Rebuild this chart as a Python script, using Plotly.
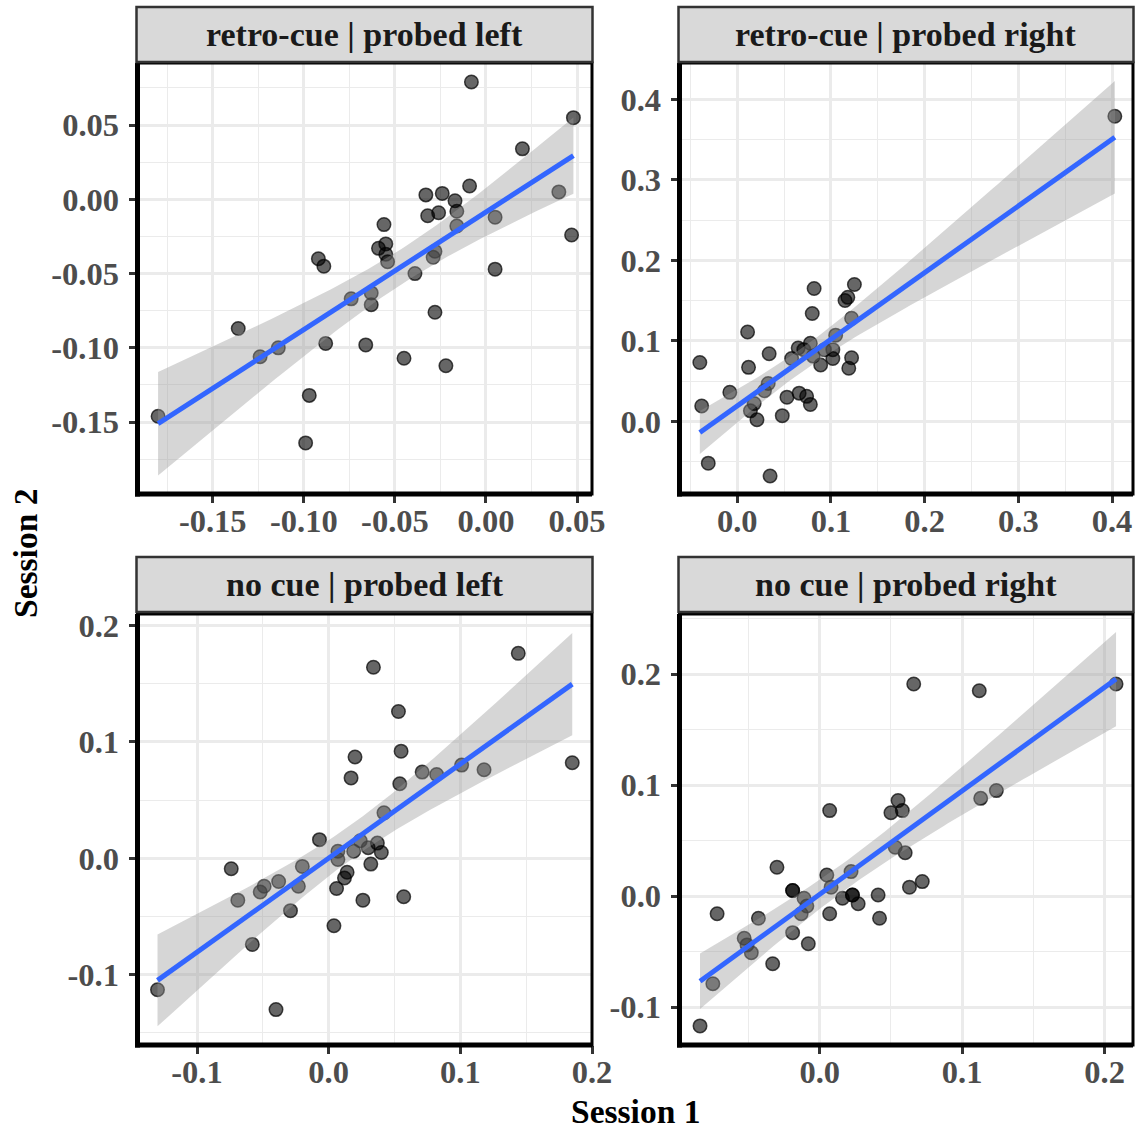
import numpy as np
import plotly.graph_objects as go

W, H = 1141, 1129

# ---- per-participant estimates: session 1 (x) vs session 2 (y) ----
retro_left_s1 = [-0.008, 0.048, 0.020, -0.009, -0.033, -0.024, -0.017, -0.016, -0.032, -0.026,
                 0.040, 0.005, -0.016, 0.047, -0.056, -0.059, -0.055, -0.055, -0.054, -0.092,
                 -0.089, -0.028, -0.029, 0.005, -0.039, -0.063, -0.074, -0.063, -0.028, -0.136,
                 -0.124, -0.114, -0.088, -0.066, -0.045, -0.022, -0.097, -0.099, -0.180]
retro_left_s2 = [0.079, 0.055, 0.034, 0.009, 0.003, 0.004, -0.001, -0.008, -0.011, -0.009,
                 0.005, -0.012, -0.018, -0.024, -0.017, -0.033, -0.030, -0.037, -0.042, -0.040,
                 -0.045, -0.035, -0.039, -0.047, -0.050, -0.063, -0.067, -0.071, -0.076, -0.087,
                 -0.106, -0.100, -0.097, -0.098, -0.107, -0.112, -0.132, -0.164, -0.146]

retro_right_s1 = [0.403, 0.125, 0.082, 0.118, 0.115, 0.080, 0.122, 0.011, 0.105, 0.078,
                  0.102, 0.065, 0.071, 0.058, 0.034, 0.081, 0.093, 0.102, 0.122, 0.089,
                  0.119, 0.012, -0.040, 0.033, 0.029, -0.008, 0.053, 0.066, 0.074, 0.078,
                  0.018, 0.014, -0.038, 0.021, 0.048, -0.031, 0.035]
retro_right_s2 = [0.379, 0.170, 0.165, 0.154, 0.150, 0.134, 0.128, 0.111, 0.107, 0.097,
                  0.089, 0.091, 0.089, 0.078, 0.084, 0.081, 0.089, 0.078, 0.079, 0.070,
                  0.066, 0.067, 0.073, 0.047, 0.038, 0.036, 0.030, 0.035, 0.031, 0.021,
                  0.022, 0.013, 0.019, 0.002, 0.007, -0.052, -0.068]

nocue_left_s1 = [0.034, 0.144, 0.053, 0.020, 0.055, 0.017, 0.054, 0.071, 0.082, 0.101,
                 0.118, 0.185, 0.042, -0.007, 0.007, 0.007, 0.019, 0.024, 0.030, 0.037,
                 0.040, 0.032, -0.020, 0.014, 0.012, 0.006, 0.026, 0.057, -0.074, -0.069,
                 -0.049, -0.052, -0.038, -0.023, -0.029, 0.004, -0.058, -0.130, -0.040]
nocue_left_s2 = [0.164, 0.176, 0.126, 0.087, 0.092, 0.069, 0.064, 0.074, 0.072, 0.080,
                 0.076, 0.082, 0.039, 0.016, 0.006, -0.001, 0.006, 0.015, 0.009, 0.013,
                 0.005, -0.005, -0.007, -0.012, -0.017, -0.026, -0.036, -0.033, -0.009, -0.036,
                 -0.024, -0.029, -0.020, -0.024, -0.045, -0.058, -0.074, -0.113, -0.130]

nocue_right_s1 = [0.066, 0.112, 0.208, 0.113, 0.124, 0.007, 0.055, 0.050, 0.058, 0.053,
                  0.060, -0.030, 0.005, 0.022, 0.008, -0.019, -0.019, -0.011, -0.009, -0.013,
                  0.023, 0.023, 0.016, 0.027, 0.041, 0.072, 0.063, 0.007, 0.042, -0.072,
                  -0.043, -0.053, -0.048, -0.051, -0.019, -0.008, -0.033, -0.075, -0.084]
nocue_right_s2 = [0.191, 0.185, 0.191, 0.088, 0.095, 0.077, 0.086, 0.075, 0.077, 0.044,
                  0.039, 0.026, 0.019, 0.022, 0.008, 0.005, 0.005, -0.002, -0.009, -0.016,
                  0.001, 0.001, -0.002, -0.007, 0.001, 0.013, 0.008, -0.016, -0.020, -0.016,
                  -0.020, -0.038, -0.051, -0.044, -0.033, -0.043, -0.061, -0.079, -0.117]

# ---- facet titles and axis breaks ----
facet_titles = ["retro-cue | probed left", "retro-cue | probed right",
                "no cue | probed left", "no cue | probed right"]

retro_left_xbreaks = [-0.15, -0.10, -0.05, 0.00, 0.05]
retro_left_xlabels = ["-0.15", "-0.10", "-0.05", "0.00", "0.05"]
retro_left_ybreaks = [-0.15, -0.10, -0.05, 0.00, 0.05]
retro_left_ylabels = ["-0.15", "-0.10", "-0.05", "0.00", "0.05"]

retro_right_xbreaks = [0.0, 0.1, 0.2, 0.3, 0.4]
retro_right_xlabels = ["0.0", "0.1", "0.2", "0.3", "0.4"]
retro_right_ybreaks = [0.0, 0.1, 0.2, 0.3, 0.4]
retro_right_ylabels = ["0.0", "0.1", "0.2", "0.3", "0.4"]

nocue_left_xbreaks = [-0.1, 0.0, 0.1, 0.2]
nocue_left_xlabels = ["-0.1", "0.0", "0.1", "0.2"]
nocue_left_ybreaks = [-0.1, 0.0, 0.1, 0.2]
nocue_left_ylabels = ["-0.1", "0.0", "0.1", "0.2"]

nocue_right_xbreaks = [0.0, 0.1, 0.2]
nocue_right_xlabels = ["0.0", "0.1", "0.2"]
nocue_right_ybreaks = [-0.1, 0.0, 0.1, 0.2]
nocue_right_ylabels = ["-0.1", "0.0", "0.1", "0.2"]

# ---- layout (pixels) ----
COLS = [(137.5, 592.0), (679.5, 1133.0)]
ROWS = [(63.0, 494.0), (614.0, 1045.0)]
STRIPS = [(7.0, 62.0), (557.0, 612.0)]

panels = [
    dict(x=retro_left_s1, y=retro_left_s2, xb=retro_left_xbreaks, xl=retro_left_xlabels,
         yb=retro_left_ybreaks, yl=retro_left_ylabels,
         xr=[-0.1913, 0.0582], yr=[-0.1984, 0.0918], r=0, c=0),
    dict(x=retro_right_s1, y=retro_right_s2, xb=retro_right_xbreaks, xl=retro_right_xlabels,
         yb=retro_right_ybreaks, yl=retro_right_ylabels,
         xr=[-0.0617, 0.4224], yr=[-0.0903, 0.4451], r=0, c=1),
    dict(x=nocue_left_s1, y=nocue_left_s2, xb=nocue_left_xbreaks, xl=nocue_left_xlabels,
         yb=nocue_left_ybreaks, yl=nocue_left_ylabels,
         xr=[-0.1452, 0.2000], yr=[-0.1604, 0.2098], r=1, c=0),
    dict(x=nocue_right_s1, y=nocue_right_s2, xb=nocue_right_xbreaks, xl=nocue_right_xlabels,
         yb=nocue_right_ybreaks, yl=nocue_right_ylabels,
         xr=[-0.0984, 0.2199], yr=[-0.1342, 0.2541], r=1, c=1),
]


def t975(df):
    # Cornish-Fisher expansion of the Student-t 97.5% quantile
    z = 1.959964
    return (z + (z ** 3 + z) / (4 * df)
            + (5 * z ** 5 + 16 * z ** 3 + 3 * z) / (96 * df ** 2)
            + (3 * z ** 7 + 19 * z ** 5 + 17 * z ** 3 - 15 * z) / (384 * df ** 3))


def lm_band(x, y, n=100):
    x = np.asarray(x, float)
    y = np.asarray(y, float)
    m = len(x)
    xm, ym = x.mean(), y.mean()
    sxx = ((x - xm) ** 2).sum()
    b = ((x - xm) * (y - ym)).sum() / sxx
    a = ym - b * xm
    s = np.sqrt(((y - (a + b * x)) ** 2).sum() / (m - 2))
    xg = np.linspace(x.min(), x.max(), n)
    yg = a + b * xg
    se = s * np.sqrt(1.0 / m + (xg - xm) ** 2 / sxx)
    t = t975(m - 2)
    return xg, yg, yg - t * se, yg + t * se


def minor_breaks(breaks, rng):
    step = breaks[1] - breaks[0]
    out = []
    v = breaks[0] - step / 2
    while v > rng[0]:
        out.append(v)
        v -= step
    v = breaks[0] + step / 2
    while v < rng[1]:
        out.append(v)
        v += step
    return out


def fx(px):
    return px / W


def fy(py):
    return 1 - py / H


FONT = "Liberation Serif"
GRID = "#EBEBEB"
fig = go.Figure()
shapes = []
annotations = []
layout_axes = {}

for i, p in enumerate(panels):
    k = i + 1
    xa = "x" if k == 1 else f"x{k}"
    ya = "y" if k == 1 else f"y{k}"

    # points
    fig.add_trace(go.Scatter(
        x=p["x"], y=p["y"], mode="markers", xaxis=xa, yaxis=ya,
        marker=dict(size=13.5, color="rgba(0,0,0,0.6)",
                    line=dict(color="rgba(0,0,0,0.7)", width=1.5)),
        showlegend=False, hoverinfo="skip"))

    # linear fit with 95% confidence ribbon
    xg, yg, lo, hi = lm_band(p["x"], p["y"])
    fig.add_trace(go.Scatter(x=xg, y=hi, mode="lines", line=dict(width=0),
                             xaxis=xa, yaxis=ya, showlegend=False, hoverinfo="skip"))
    fig.add_trace(go.Scatter(x=xg, y=lo, mode="lines", line=dict(width=0),
                             fill="tonexty", fillcolor="rgba(153,153,153,0.4)",
                             xaxis=xa, yaxis=ya, showlegend=False, hoverinfo="skip"))
    fig.add_trace(go.Scatter(x=xg, y=yg, mode="lines", line=dict(color="#3366FF", width=5),
                             xaxis=xa, yaxis=ya, showlegend=False, hoverinfo="skip"))

    x0, x1 = COLS[p["c"]]
    y0, y1 = ROWS[p["r"]]
    s0, s1 = STRIPS[p["r"]]

    common = dict(
        ticks="outside", ticklen=8, tickwidth=2.5, tickcolor="#333333",
        showgrid=True, gridcolor=GRID, gridwidth=2.8,
        zeroline=False, showline=False, automargin=False,
        tickfont=dict(family=FONT, size=32.5, color="#4D4D4D", weight="bold"),
    )
    layout_axes["xaxis" if k == 1 else f"xaxis{k}"] = dict(
        domain=[fx(x0), fx(x1)], range=p["xr"], anchor=ya,
        tickmode="array", tickvals=p["xb"], ticktext=p["xl"],
        minor=dict(tickmode="array", tickvals=minor_breaks(p["xb"], p["xr"]),
                   showgrid=True, gridcolor=GRID, gridwidth=1.4, ticks=""),
        ticklabelstandoff=-10,
        **common)
    layout_axes["yaxis" if k == 1 else f"yaxis{k}"] = dict(
        domain=[fy(y1), fy(y0)], range=p["yr"], anchor=xa,
        tickmode="array", tickvals=p["yb"], ticktext=p["yl"],
        minor=dict(tickmode="array", tickvals=minor_breaks(p["yb"], p["yr"]),
                   showgrid=True, gridcolor=GRID, gridwidth=1.4, ticks=""),
        ticklabelstandoff=3,
        **common)

    # panel border, with heavier left and bottom axis lines
    shapes.append(dict(type="rect", xref="paper", yref="paper",
                       x0=fx(x0), x1=fx(x1), y0=fy(y1), y1=fy(y0),
                       line=dict(color="black", width=3), layer="above"))
    shapes.append(dict(type="line", xref="paper", yref="paper",
                       x0=fx(x0), x1=fx(x0), y0=fy(y1 + 2.5), y1=fy(y0),
                       line=dict(color="black", width=5), layer="above"))
    shapes.append(dict(type="line", xref="paper", yref="paper",
                       x0=fx(x0 - 2.5), x1=fx(x1), y0=fy(y1), y1=fy(y1),
                       line=dict(color="black", width=5), layer="above"))

    # facet strip
    shapes.append(dict(type="rect", xref="paper", yref="paper",
                       x0=fx(x0 - 1), x1=fx(x1 + 0.5), y0=fy(s1), y1=fy(s0),
                       fillcolor="#D9D9D9", line=dict(color="#333333", width=2.5),
                       layer="above"))
    annotations.append(dict(x=fx((x0 + x1) / 2), y=fy((s0 + s1) / 2), xref="paper",
                            yref="paper", text=f"<b>{facet_titles[i]}</b>", showarrow=False,
                            xanchor="center", yanchor="middle",
                            font=dict(family=FONT, size=34, color="#1A1A1A")))

# shared axis titles
annotations.append(dict(x=fx((COLS[0][0] + COLS[1][1]) / 2), y=fy(1111), xref="paper",
                        yref="paper", text="<b>Session 1</b>", showarrow=False,
                        xanchor="center", yanchor="middle",
                        font=dict(family=FONT, size=33.5, color="black")))
annotations.append(dict(x=fx(25), y=fy((ROWS[0][0] + ROWS[1][1]) / 2), xref="paper",
                        yref="paper", text="<b>Session 2</b>", showarrow=False,
                        textangle=-90, xanchor="center", yanchor="middle",
                        font=dict(family=FONT, size=33.5, color="black")))

fig.update_layout(
    template="none",
    width=W, height=H, margin=dict(l=0, r=0, t=0, b=0, autoexpand=False),
    paper_bgcolor="white", plot_bgcolor="white",
    shapes=shapes, annotations=annotations, showlegend=False,
    **layout_axes,
)

fig.write_html("out.html")
